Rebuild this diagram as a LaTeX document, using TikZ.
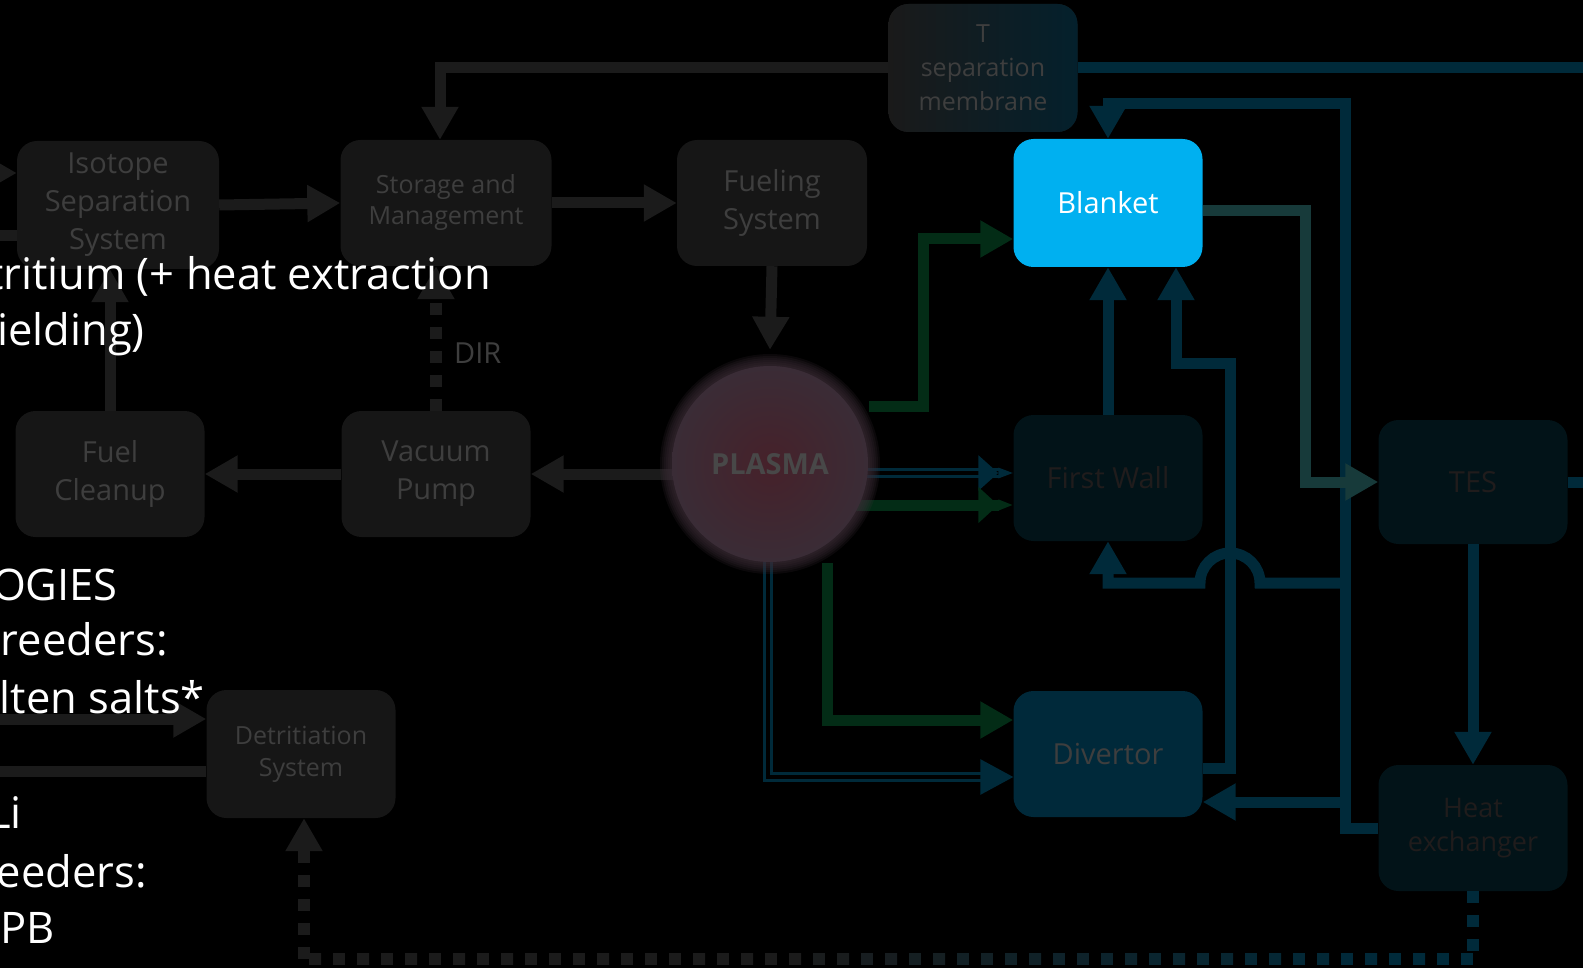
\documentclass[tikz,border=0pt]{standalone}
\usepackage{fontspec}
\setmainfont{Open Sans}
\usetikzlibrary{arrows.meta,calc}

\definecolor{boxgray}{HTML}{161616}
\definecolor{linegray}{HTML}{1B1B1B}
\definecolor{labelgray}{HTML}{3E3E3E}
\definecolor{tealline}{HTML}{002A3A}
\definecolor{tealbox}{HTML}{00293A}
\definecolor{darkbox}{HTML}{021318}
\definecolor{darklabel}{HTML}{201C1C}
\definecolor{greenline}{HTML}{032C16}
\definecolor{tealgreen}{HTML}{173A3A}
\definecolor{blanketblue}{HTML}{00B0F0}
\definecolor{tsepleft}{HTML}{1A1A1A}
\definecolor{tsepright}{HTML}{04202C}
\definecolor{plasmacore}{HTML}{46212A}
\definecolor{plasmarim}{HTML}{3A2C36}
\definecolor{plasmatext}{HTML}{484848}

\tikzset{
  box/.style={rectangle, rounded corners=20pt, fill=boxgray, text=labelgray,
    minimum width=189pt, minimum height=126pt, inner sep=0pt, align=center,
    font=\fontsize{29}{38}\selectfont},
  smallbox/.style={box, font=\fontsize{25}{32}\selectfont},
  darkteal/.style={box, fill=darkbox, text=darklabel},
  tip/.style={-{Triangle[length=33pt,width=35pt]}},
  twotip/.style={-{Triangle[length=20pt,width=35pt] Triangle[length=15pt,width=10pt]}},
  grayline/.style={draw=linegray, line width=11pt},
  grayarrow/.style={grayline, tip},
  graydots/.style={grayline, line width=12pt, dash pattern=on 12pt off 12pt, tip},
  tealarrow/.style={draw=tealline, line width=11pt, tip},
  tgarrow/.style={draw=tealgreen, line width=11pt, tip},
  greenarrow/.style={draw=greenline, line width=11pt, tip},
  tealpair/.style={draw=tealline, line width=3pt, double=black, double distance=4pt},
  dots/.style={line width=12pt, dash pattern=on 12pt off 12pt},
  lbl/.style={text=labelgray, font=\fontsize{29}{29}\selectfont, inner sep=0pt},
  wtext/.style={text=white, font=\fontsize{43.5}{56}\selectfont, anchor=base east, inner sep=0pt}
}

\begin{document}
\begin{tikzpicture}[x=1pt, y=-1pt]
\useasboundingbox (0,0) rectangle (1583,968);
\fill[black] (0,0) rectangle (1583,968);

% boxes
\node[box, minimum width=202pt, minimum height=128pt] (iso) at (118,205) {Isotope\\Separation\\System};
\node[smallbox, minimum width=211pt, font=\fontsize{25}{31}\selectfont] (store) at (446,203) {Storage and\\Management};
\node[box, minimum width=190pt] (fuel) at (772,203) {Fueling\\System};
\node[smallbox, minimum height=128pt, left color=tsepleft, right color=tsepright, font=\fontsize{25}{34}\selectfont] (tsep) at (983,68) {T\\separation\\membrane};
\node[box, minimum height=128pt, fill=blanketblue, text=white] (blanket) at (1108,203) {Blanket};
\node[box] (cleanup) at (110,474) {Fuel\\Cleanup};
\node[box] (vacuum) at (436,474) {Vacuum\\Pump};
\node[circle, minimum size=228pt, inner sep=0pt] (plasma) at (770,464) {};
\node[darkteal] (fwall) at (1108,478) {First Wall};
\node[darkteal, minimum height=124pt] (tes) at (1473,482) {TES};
\node[box, fill=tealbox] (divertor) at (1108,754) {Divertor};
\node[darkteal, font=\fontsize{27}{34}\selectfont] (hx) at (1473,828) {Heat\\exchanger};
\node[smallbox, minimum height=128pt] (detrit) at (301,754) {Detritiation\\System};

% fuel cycle
\draw[grayarrow] (iso.east) -- (store.west);
\draw[grayarrow] (store.east) -- (fuel.west);
\draw[grayarrow] (tsep.west) -| ([xshift=-6pt]store.north);
\draw[grayarrow] (fuel.south) -- (plasma.north);
\draw[grayarrow] (plasma.center |- vacuum.east) -- (vacuum.east);
\draw[grayarrow] (vacuum.west) -- (cleanup.east);
\draw[grayarrow] (cleanup.north) -- (cleanup.north |- iso.south);
\draw[graydots] (vacuum.north) -- (vacuum.north |- store.south);
\node[lbl, right] (dir) at (454,353) {DIR};

\coordinate (isoin) at (-40,173);
\coordinate (isoout) at (-40,236);
\coordinate (dtin) at (-40,719);
\coordinate (dtout) at (-40,771);
\draw[grayarrow] (isoin) -- (isoin -| iso.west);
\draw[grayline] (isoout -| iso.west) -- (isoout);
\draw[grayarrow] (dtin) -- (dtin -| detrit.west);
\draw[grayline] (dtout -| detrit.west) -- (dtout);

% coolant loops
\coordinate (tsepout) at (1600,68);
\coordinate (tesout) at (1600,482);
\coordinate (bustop) at (1345,104);
\coordinate (busfw) at (1345,583);
\coordinate (busdv) at (1345,802);
\draw[draw=tealline, line width=11pt] (tsep.east) -- (tsepout);
\draw[draw=tealline, line width=11pt] (tes.east) -- (tesout);
\draw[tealarrow] (fwall.north) -- (blanket.south);
\draw[tealarrow] (tes.south) -- (hx.north);
\draw[tealarrow] (hx.west) -| (bustop) -| (blanket.north);
\draw[tealarrow] (busfw) -- (1260,583) arc[start angle=0, end angle=180, radius=30pt] -| (fwall.south);
\draw[tealarrow] (busdv) -- (busdv -| divertor.east);
\draw[tealarrow] ([yshift=-14pt]divertor.east) -| (1230,364) -| ([xshift=68pt]blanket.south);
\draw[tgarrow] ([yshift=-8pt]blanket.east) -- ++(103,0) |- (tes.west);

% heat from plasma
\coordinate (fwt) at ([yshift=5pt]fwall.west);
\coordinate (fwg) at ([yshift=-27pt]fwall.west);
\coordinate (dvt) at ([yshift=-23pt]divertor.west);
\coordinate (dvg) at ([yshift=34pt]divertor.west);
\draw[greenarrow] (plasma.30) -- ++(55,0) |- ([yshift=-36pt]blanket.west);
\draw[tealpair, twotip] (fwt -| plasma.center) -- (fwt);
\draw[greenarrow, twotip] (fwg -| plasma.center) -- (fwg);
\draw[tealpair, tip] ([xshift=-2pt]plasma.center) |- (dvt);
\draw[greenarrow] (plasma.-60) |- (dvg);

% dotted return to detritiation
\coordinate (dotR) at (1473,959);
\coordinate (dotL) at (304,959);
\draw[dots, tealline] (hx.south) -- (dotR);
\foreach \i in {0,...,24} {
  \pgfmathsetmacro{\xa}{1473-48*\i}
  \pgfmathsetmacro{\xb}{max(1473-48*(\i+1),304)}
  \pgfmathtruncatemacro{\mixp}{min(100,max(0,(\xa-800)/6))}
  \draw[dots, draw=tealline!\mixp!linegray] (\xa,959) -- (\xb,959);
}
\draw[graydots] (dotL) -- (dotL |- detrit.south);

% plasma
\foreach \r in {110,108,...,96}
  \fill[plasmarim, opacity=0.2] (plasma.center) circle[radius=\r pt];
\shade[inner color=plasmacore, outer color=plasmarim] (plasma.center) circle[radius=98pt];
\node[text=plasmatext, font=\bfseries\fontsize{29}{29}\selectfont] (plasmalbl) at (plasma.center) {PLASMA};

% slide text on top
\node[wtext] (t1) at (491,290) {tritium (+ heat extraction};
\node[wtext] (t2) at (145,346) {ielding)};
\node[wtext] (t3) at (118,600) {OGIES};
\node[wtext] (t4) at (168,655) {reeders:};
\node[wtext] (t5) at (205,713) {lten salts*};
\node[wtext] (t6) at (22,828) {Li};
\node[wtext] (t7) at (147,887) {eeders:};
\node[wtext] (t8) at (55,943) {PB};
\end{tikzpicture}
\end{document}
